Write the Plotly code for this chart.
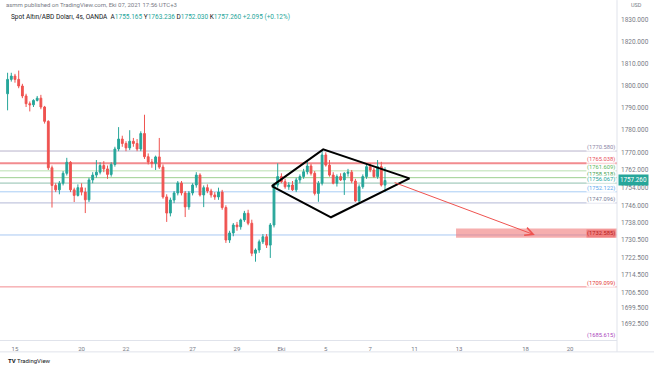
import plotly.graph_objects as go

# ---------------- data ----------------
bar_index = list(range(-2, 101))  # 4h bars, 0 = first bar of 15 Eylül

open_ = [1796.5, 1803, 1804.5, 1803, 1800, 1795.5, 1792, 1791.5, 1793.5, 1794.5,
         1790.5, 1784, 1763, 1755, 1753, 1756, 1760.5, 1765.5, 1753, 1750.5,
         1754, 1752, 1748.5, 1757.5, 1759.7, 1761, 1764, 1762.5, 1760, 1764.5,
         1771.5, 1776, 1774, 1772, 1775, 1774, 1771.5, 1778.5, 1768, 1765.6,
         1765, 1767.9, 1763.3, 1749.8, 1742.5, 1748.4, 1751.6, 1756.1, 1751.6, 1745.3,
         1751.6, 1755.2, 1759.7, 1750.7, 1754, 1752.5, 1750.7, 1749.8, 1752, 1745,
         1730.3, 1733.5, 1737.1, 1736.3, 1739.4, 1742.4, 1737.9, 1724.3, 1725.8, 1729.5,
         1731.8, 1728, 1737.1, 1755.2, 1759, 1756.7, 1754.4, 1755.2, 1753, 1757.5,
         1759, 1761.2, 1763.8, 1760.5, 1751.4, 1756, 1768.8, 1764.2, 1759.7, 1756,
         1759, 1757.5, 1760.5, 1761, 1757, 1748, 1754.4, 1759, 1763.5, 1762,
         1759, 1763.5, 1755.165]
high = [1806, 1806, 1805.5, 1807, 1801, 1796.5, 1793, 1794, 1795.5, 1796,
        1791, 1784.5, 1764, 1756, 1757, 1761.5, 1767.5, 1766, 1754, 1755.5,
        1756, 1754, 1758.5, 1761, 1766.5, 1765.5, 1766, 1764, 1765.5, 1772.5,
        1781.4, 1777.5, 1775, 1780, 1776.5, 1776, 1779.5, 1787, 1769.5, 1767,
        1768.5, 1776.5, 1764.5, 1751, 1749.5, 1752.5, 1757, 1757, 1752.5, 1752.5,
        1756, 1761, 1760.5, 1755, 1755.5, 1753.5, 1752, 1754, 1753, 1746,
        1734.5, 1738, 1738.5, 1740, 1743.5, 1744, 1739.5, 1726.5, 1730.5, 1733,
        1733, 1738, 1756, 1765, 1760.5, 1758, 1756.5, 1757, 1758.5, 1760,
        1762.5, 1766.5, 1764.8, 1761.5, 1757, 1770.5, 1770, 1766.5, 1761, 1760,
        1760.5, 1761, 1762.5, 1762, 1758, 1755.5, 1760, 1764.5, 1765, 1763,
        1766.5, 1765.7, 1763.236]
low = [1789, 1802, 1801.5, 1799, 1794.5, 1790.5, 1788.5, 1790.5, 1793, 1789.5,
       1783, 1762, 1745, 1752, 1751, 1755, 1759.5, 1752, 1747.5, 1750,
       1750.5, 1742.5, 1747.5, 1756, 1758.5, 1760, 1761, 1758, 1759, 1763.5,
       1770.5, 1772.5, 1770.5, 1771, 1772.5, 1770.5, 1770.5, 1767, 1764.5, 1763,
       1762, 1762.5, 1749, 1738.5, 1741, 1747, 1750.5, 1750.5, 1740.7, 1744,
       1750.5, 1754, 1750, 1745.2, 1751.5, 1749.5, 1748.5, 1748.5, 1744, 1729,
       1729, 1732, 1734.5, 1735, 1738.5, 1737, 1723, 1720.5, 1724.5, 1728.5,
       1726.7, 1722.2, 1736, 1754, 1756, 1753.5, 1753, 1752.5, 1752, 1756,
       1758, 1760, 1759.5, 1750.5, 1747.6, 1755, 1763.5, 1759, 1755.5, 1754.5,
       1757, 1750.7, 1759, 1756, 1747.6, 1747, 1753.5, 1758, 1761, 1758.5,
       1758, 1754.5, 1752.03]
close = [1803, 1804.5, 1803, 1800, 1795.5, 1792, 1791.5, 1793.5, 1794.5, 1790.5,
         1784, 1763, 1755, 1753, 1756, 1760.5, 1765.5, 1753, 1750.5, 1754,
         1752, 1748.5, 1757.5, 1759.7, 1761, 1764, 1762.5, 1760, 1764.5, 1771.5,
         1776, 1774, 1772, 1775, 1774, 1771.5, 1778.5, 1768, 1765.6, 1765,
         1767.9, 1763.3, 1749.8, 1742.5, 1748.4, 1751.6, 1756.1, 1751.6, 1745.3, 1751.6,
         1755.2, 1759.7, 1750.7, 1754, 1752.5, 1750.7, 1749.8, 1752, 1745, 1730.3,
         1733.5, 1737.1, 1736.3, 1739.4, 1742.4, 1737.9, 1724.3, 1725.8, 1729.5, 1731.8,
         1728, 1737.1, 1755.2, 1759, 1756.7, 1754.4, 1755.2, 1753, 1757.5, 1759,
         1761.2, 1763.8, 1760.5, 1751.4, 1756, 1768.8, 1764.2, 1759.7, 1756, 1759,
         1757.5, 1760.5, 1761, 1757, 1748, 1754.4, 1759, 1763.5, 1762, 1759,
         1763.5, 1755.165, 1757.26]

time_tick_pos = [0, 18, 30, 48, 60, 72, 84, 96, 108, 120, 138, 150]
time_tick_text = ["15", "20", "22", "27", "29", "Eki", "5", "7", "11", "13", "18", "20"]
price_ticks = [1830, 1820, 1810, 1800, 1790, 1780, 1770, 1762, 1754, 1746, 1738,
               1730.5, 1722.5, 1714.5, 1706.5, 1699.5, 1692.5]

level_prices = [1770.580, 1765.038, 1761.609, 1758.518, 1756.067, 1752.122, 1747.096, 1732.585, 1709.099]
level_colors = ["#b7b3cc", "#f28b8f", "#b9dfb0", "#9ccf8f", "#8fbfae", "#a9cdf5", "#b3b8d6", "#a9c8f2", "#f28b8f"]
level_widths = [1, 2, 1, 1, 1, 1, 1, 1, 1]

label_prices = [1770.580, 1765.038, 1761.609, 1758.518, 1756.067, 1752.122, 1747.096, 1732.585, 1709.099, 1685.615]
label_colors = ["#8d86a6", "#e8505b", "#5cb85c", "#3f9f4f", "#26a69a", "#5aa7ee", "#7a7f9a", "#b71c1c", "#e53935", "#ab47bc"]

diamond_x = [69.4, 83.3, 106.6, 85.4, 69.4]
diamond_y = [1754.7, 1771.35, 1758.2, 1740.6, 1754.7]
arrow_start = (102.2, 1756.55)
arrow_end = (140.5, 1732.585)
zone_x0 = 119.2
zone_y = (1731.3, 1735.5)

x_range = [-4.05, 162.7]
y_range = [1685.06, 1834.4]

UP = "#26a69a"
DOWN = "#ef5350"
FONT = "Roboto"

# ---------------- figure ----------------
fig = go.Figure()

fig.add_trace(go.Candlestick(
    x=bar_index, open=open_, high=high, low=low, close=close,
    increasing=dict(line=dict(color=UP, width=1), fillcolor=UP),
    decreasing=dict(line=dict(color=DOWN, width=1), fillcolor=DOWN),
    whiskerwidth=0, hoverinfo="skip", showlegend=False,
))

fig.add_trace(go.Scatter(
    x=diamond_x, y=diamond_y, mode="lines",
    line=dict(color="#000000", width=2), hoverinfo="skip", showlegend=False,
))

shapes = []
for p, c, w in zip(level_prices, level_colors, level_widths):
    shapes.append(dict(type="line", xref="paper", x0=0, x1=1, yref="y", y0=p, y1=p,
                       line=dict(color=c, width=w), layer="below"))
shapes.append(dict(type="rect", xref="x", x0=zone_x0, x1=x_range[1], yref="y",
                   y0=zone_y[0], y1=zone_y[1], fillcolor="rgba(240,120,120,0.6)",
                   line=dict(width=0), layer="above"))
# frame lines (price-scale separator, bottom border)
shapes.append(dict(type="line", xref="paper", x0=1, x1=1, yref="paper", y0=-0.036, y1=1.03,
                   line=dict(color="#e0e3eb", width=1)))
shapes.append(dict(type="line", xref="paper", x0=0, x1=1.06, yref="paper", y0=-0.036, y1=-0.036,
                   line=dict(color="#e0e3eb", width=1)))

annotations = []
for p, c in zip(label_prices, label_colors):
    is_zone = abs(p - 1732.585) < 1e-6
    annotations.append(dict(
        xref="paper", x=1, xanchor="right", xshift=-1,
        yref="y", y=p, yanchor="middle",
        yshift=3.5 if not is_zone else 1,
        text="(%.3f)" % p, showarrow=False,
        font=dict(family=FONT, size=5.8, color=c),
        bgcolor="#f08080" if is_zone else "rgba(255,255,255,0.85)", borderpad=0,
    ))

annotations.append(dict(
    x=arrow_end[0], y=arrow_end[1], ax=arrow_start[0], ay=arrow_start[1],
    xref="x", yref="y", axref="x", ayref="y", text="", showarrow=True,
    arrowhead=5, arrowsize=1.6, arrowwidth=1, arrowcolor="#ef5350",
))

# last price label on the price scale
last_c = close[-1]
annotations.append(dict(
    xref="paper", x=1, xanchor="left", xshift=1, yref="y", y=last_c, yanchor="middle",
    text="%.3f" % last_c, showarrow=False, bgcolor=UP, borderpad=1,
    font=dict(family=FONT, size=6.3, color="#ffffff"),
))
annotations.append(dict(
    xref="paper", x=1.031, xanchor="center", yref="paper", y=1.016, yanchor="middle",
    text="USD", showarrow=False, font=dict(family=FONT, size=5.5, color="#787b86"),
))

# header texts
annotations.append(dict(
    xref="paper", x=0.006, xanchor="left", yref="paper", y=1.016, yanchor="middle",
    text="asmm published on TradingView.com, Eki 07, 2021 17:56 UTC+3", showarrow=False,
    font=dict(family=FONT, size=6, color="#787b86"),
))
o, h, l, c = open_[-1], high[-1], low[-1], close[-1]
chg = c - close[-2]
pct = chg / close[-2] * 100
val = lambda s: "<span style='color:%s'>%s</span>" % (UP, s)
legend_text = ("Spot Altın/ABD Doları, 4s, OANDA  A" + val("%.3f" % o) + " Y" + val("%.3f" % h) +
               " D" + val("%.3f" % l) + " K" + val("%.3f" % c) + " " + val("%+.3f (%+.2f%%)" % (chg, pct)))
annotations.append(dict(
    xref="paper", x=0.014, xanchor="left", yref="paper", y=0.979, yanchor="middle",
    text=legend_text, showarrow=False, font=dict(family=FONT, size=6.5, color="#131722"),
))
annotations.append(dict(
    xref="paper", x=0.01, xanchor="left", yref="paper", y=-0.062, yanchor="middle",
    text="<b>TV</b> TradingView", showarrow=False, font=dict(family=FONT, size=6, color="#131722"),
))

fig.update_layout(
    width=654, height=366,
    margin=dict(l=0, r=37, t=10, b=26),
    paper_bgcolor="#ffffff", plot_bgcolor="#ffffff",
    showlegend=False,
    shapes=shapes, annotations=annotations,
    font=dict(family=FONT),
    xaxis=dict(range=x_range, rangeslider=dict(visible=False), showgrid=False, zeroline=False,
               tickmode="array", tickvals=time_tick_pos, ticktext=time_tick_text,
               tickfont=dict(size=6, color="#787b86"), ticks="", showline=True,
               linecolor="#e0e3eb", linewidth=1, ticklabelstandoff=3, automargin=False),
    yaxis=dict(range=y_range, side="right", showgrid=False, zeroline=False,
               tickmode="array", tickvals=price_ticks,
               ticktext=["%.3f" % t for t in price_ticks],
               tickfont=dict(size=6.5, color="#787b86"), ticks="", showline=False,
               ticklabelstandoff=3, automargin=False),
)

fig.write_html("out.html", config={"displayModeBar": False},
               post_script="document.body.style.margin='0';document.body.style.padding='0';")
